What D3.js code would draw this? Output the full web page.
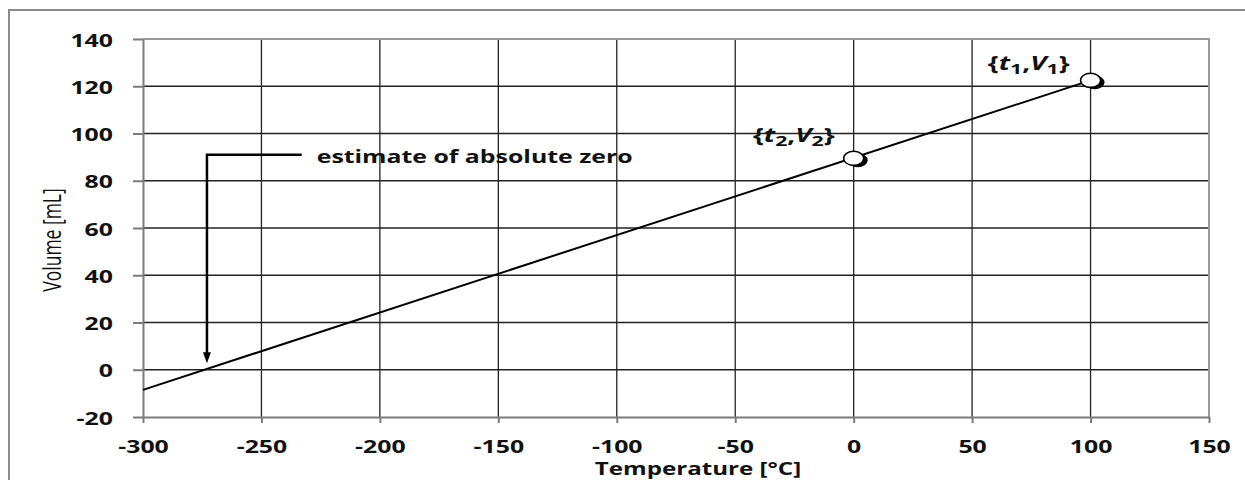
<!DOCTYPE html>
<html>
<head>
<meta charset="utf-8">
<script src="https://cdn.jsdelivr.net/npm/d3@7"></script>
<style>
  body { margin: 0; background: #fff; }
  text { font-family: "Open Sans", sans-serif; fill: #111; }
</style>
</head>
<body>
<div id="chart"></div>
<script>
var width = 1245,
	height = 480;

// axis ticks
var tempTicks = [-300, -250, -200, -150, -100, -50, 0, 50, 100, 150];
var volTicks = [-20, 0, 20, 40, 60, 80, 100, 120, 140];

// measured points {t1,V1} and {t2,V2}
var measT = [100, 0];
var measV = [122.5, 89.5];
var measSub = ["1", "2"];

// straight line through the points, extended to -300
var fitT = [-300, 100];
var fitV = [-8.5, 122.5];

// arrow for absolute zero
var zeroT = -273;
var noteT = [-273, -233];
var noteV = 91;
var noteTip = 2.8;
var noteText = "estimate of absolute zero";

var sx = 1.42; // text is drawn wide in the original

var x = d3.scaleLinear().domain([-300, 150]).range([143, 1209]);
var y = d3.scaleLinear().domain([-20, 140]).range([417, 39]);

var svg = d3.select('#chart')
	.append('svg')
	.attr('width', width)
	.attr('height', height);

// outer frame, only left and top are on screen
svg.append('rect')
	.attr('x', 9).attr('y', 10)
	.attr('width', 1400).attr('height', 700)
	.attr('fill', 'none')
	.attr('stroke', '#8c8c8c')
	.attr('stroke-width', 2);

// grid
svg.append('g')
	.selectAll('line')
	.data(tempTicks.slice(1, -1))
	.join('line')
	.attr('x1', d => x(d)).attr('x2', d => x(d))
	.attr('y1', y(140)).attr('y2', y(-20))
	.attr('stroke', '#222').attr('stroke-width', 1.3);

svg.append('g')
	.selectAll('line')
	.data(volTicks.slice(1, -1))
	.join('line')
	.attr('x1', x(-300)).attr('x2', x(150))
	.attr('y1', d => y(d)).attr('y2', d => y(d))
	.attr('stroke', '#222').attr('stroke-width', 1.3);

// plot border top / right
svg.append('path')
	.attr('d', `M${x(-300)},${y(140)}H${x(150)}V${y(-20)}`)
	.attr('fill', 'none')
	.attr('stroke', '#999')
	.attr('stroke-width', 2);

// axes
var fmt = d => String(d); // plain hyphen, not the unicode minus
var xAxis = svg.append('g')
	.attr('transform', `translate(0,${y(-20)})`)
	.call(d3.axisBottom(x).tickValues(tempTicks).tickFormat(fmt).tickSize(6).tickSizeOuter(0).tickPadding(18));
var yAxis = svg.append('g')
	.attr('transform', `translate(${x(-300)},0)`)
	.call(d3.axisLeft(y).tickValues(volTicks).tickFormat(fmt).tickSize(10).tickSizeOuter(0));

[xAxis, yAxis].forEach(function(a) {
	a.select('.domain').attr('stroke', '#7a7a7a').attr('stroke-width', 2);
	a.selectAll('.tick line').attr('stroke', '#7a7a7a').attr('stroke-width', 2);
	a.selectAll('.tick text')
		.attr('fill', '#111')
		.style('font-family', '"Open Sans", sans-serif')
		.style('font-size', '17.5px')
		.style('font-weight', 'bold');
});
xAxis.selectAll('.tick text').attr('transform', `scale(${sx},1)`);
yAxis.selectAll('.tick text')
	.attr('x', -30 / sx)
	.attr('dy', '0.4em')
	.attr('transform', `scale(${sx},1)`);

// axis titles
svg.append('text')
	.attr('transform', `translate(698,475) scale(${sx},1)`)
	.attr('text-anchor', 'middle')
	.style('font-size', '17px')
	.style('font-weight', 'bold')
	.text('Temperature [°C]');

svg.append('text')
	.attr('transform', `translate(61,240) scale(${sx},1) rotate(-90)`)
	.attr('text-anchor', 'middle')
	.style('font-size', '17.5px')
	.text('Volume [mL]');

// fitted line
var line = d3.line()
	.x(d => x(d[0]))
	.y(d => y(d[1]));
svg.append('path')
	.datum(d3.zip(fitT, fitV))
	.attr('d', line)
	.attr('fill', 'none')
	.attr('stroke', '#000')
	.attr('stroke-width', 2);

// markers with shadow
var pts = d3.zip(measT, measV, measSub);
svg.append('g').selectAll('ellipse')
	.data(pts)
	.join('ellipse')
	.attr('cx', d => x(d[0]) + 4).attr('cy', d => y(d[1]) + 2)
	.attr('rx', 10).attr('ry', 7)
	.attr('fill', '#000');
svg.append('g').selectAll('ellipse')
	.data(pts)
	.join('ellipse')
	.attr('cx', d => x(d[0])).attr('cy', d => y(d[1]))
	.attr('rx', 10).attr('ry', 7)
	.attr('fill', '#fff')
	.attr('stroke', '#000')
	.attr('stroke-width', 1.5);

// point labels {t,V}
var lbl = svg.append('g').selectAll('text')
	.data(pts)
	.join('text')
	.attr('transform', (d, i) => i == 0
		? `translate(${x(d[0]) - 21},${y(d[1]) - 10}) scale(${sx},1)`
		: `translate(${x(d[0]) - 19},${y(d[1]) - 16}) scale(${sx},1)`)
	.attr('text-anchor', 'end')
	.style('font-size', '19.5px')
	.style('font-weight', 'bold');
lbl.each(function(d) {
	var t = d3.select(this);
	t.append('tspan').text('{');
	t.append('tspan').style('font-style', 'italic').text('t');
	t.append('tspan').attr('dy', 4).style('font-size', '15px').text(d[2]);
	t.append('tspan').attr('dy', -4).text(',');
	t.append('tspan').style('font-style', 'italic').text('V');
	t.append('tspan').attr('dy', 4).style('font-size', '15px').text(d[2]);
	t.append('tspan').attr('dy', -4).text('}');
});

// absolute zero note
svg.append('path')
	.attr('d', `M${x(noteT[1])},${y(noteV)}H${x(noteT[0])}V${y(noteTip) - 10}`)
	.attr('fill', 'none')
	.attr('stroke', '#000')
	.attr('stroke-width', 2.5);
svg.append('path')
	.attr('d', `M${x(zeroT) - 4},${y(noteTip) - 11}L${x(zeroT) + 4},${y(noteTip) - 11}L${x(zeroT)},${y(noteTip)}Z`)
	.attr('fill', '#000');
svg.append('text')
	.attr('transform', `translate(${x(noteT[1]) + 15},${y(noteV) + 8}) scale(${sx},1)`)
	.style('font-size', '17.5px')
	.style('font-weight', 'bold')
	.text(noteText);
</script>
</body>
</html>
